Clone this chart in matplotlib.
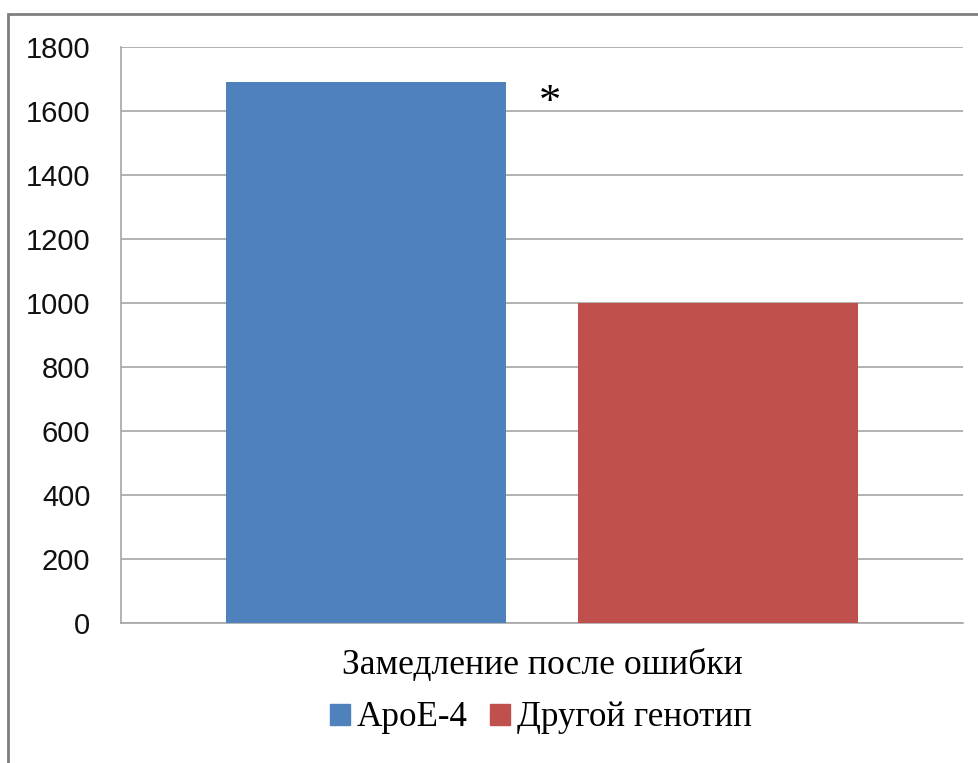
import matplotlib
matplotlib.use("Agg")
import matplotlib.pyplot as plt
from matplotlib.patches import Rectangle, Patch

# данные
category = "Замедление после ошибки"
series = ["ApoE-4", "Другой генотип"]
values = [1690, 1000]
colors = ["#4F81BD", "#C0504D"]
y_ticks = [0, 200, 400, 600, 800, 1000, 1200, 1400, 1600, 1800]
star_text = "*"

W, H = 979, 763
fig = plt.figure(figsize=(W / 100, H / 100), dpi=100)

# рамка вокруг всей диаграммы
fig.patches.append(Rectangle((8 / W, -0.1), 1.2, (H - 14) / H + 0.1,
                             transform=fig.transFigure, fill=False,
                             ec="#7f7f7f", lw=2))

ax = fig.add_axes([121 / W, (H - 623) / H, 842 / W, (623 - 47) / H])

offs = [-0.2085, 0.2085]
width = 0.3325
for x, v, c in zip(offs, values, colors):
    ax.bar(x, v, width=width, color=c, zorder=3)

ax.set_xlim(-0.5, 0.5)
ax.set_ylim(0, 1800)
ax.set_yticks(y_ticks)
ax.grid(axis="y", color="#a6a6a6", lw=1.2, zorder=0)
for s in ["top", "right"]:
    ax.spines[s].set_visible(False)
ax.spines["left"].set_color("#a6a6a6")
ax.spines["bottom"].set_color("#a6a6a6")
ax.spines["left"].set_linewidth(1.2)
ax.spines["bottom"].set_linewidth(1.2)

ax.tick_params(axis="y", length=0, pad=22, labelsize=21, labelcolor="#111111")
for t in ax.get_yticklabels():
    t.set_fontfamily("Liberation Sans")

ax.set_xticks([0], [category])
ax.tick_params(axis="x", length=0, pad=19)
for t in ax.get_xticklabels():
    t.set_fontfamily("Liberation Serif")
    t.set_fontsize(25.7)

ax.text(0.0095, 1592, star_text, ha="center", va="baseline",
        fontsize=32, family="Liberation Serif")

handles = [Patch(color=c, label=s) for c, s in zip(colors, series)]
fig.legend(handles=handles, loc="center", bbox_to_anchor=(541 / W, 1 - 718 / H),
           ncol=2, frameon=False, prop={"family": "Liberation Serif", "size": 25.2},
           handlelength=0.55, handleheight=0.55, handletextpad=0.2,
           columnspacing=0.65)

fig.savefig("out.png", dpi=100)
